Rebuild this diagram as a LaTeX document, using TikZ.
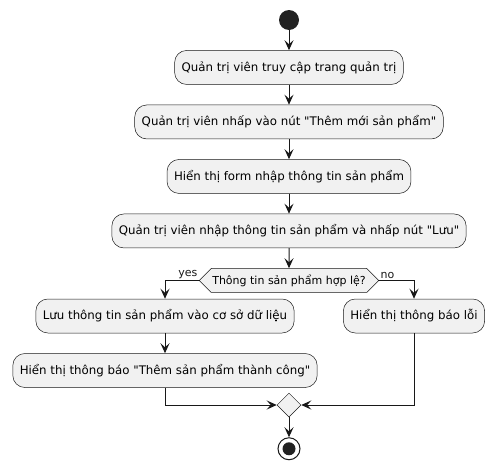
\documentclass[tikz,border=0pt]{standalone}
\usepackage{fontspec}
\setmainfont{DejaVu Sans}[Ligatures=TeXOff]
\usetikzlibrary{arrows.meta, positioning, shapes.geometric, shapes.symbols}
\definecolor{actfill}{RGB}{241,241,241}
\definecolor{actline}{RGB}{24,24,24}
\definecolor{dotfill}{RGB}{34,34,34}
\tikzset{
  block/.style={rectangle, rounded corners=12pt, draw=actline, fill=actfill,
                line width=0.5pt, minimum height=34pt, inner xsep=7pt,
                font=\fontsize{11.8}{14}\selectfont},
  decision/.style={signal, signal to=west and east, signal pointer angle=90,
                   draw=actline, fill=actfill, line width=0.5pt,
                   minimum height=24pt, inner xsep=1pt,
                   font=\fontsize{11}{13}\selectfont},
  junction/.style={diamond, draw=actline, fill=actfill, line width=0.5pt,
                   minimum width=24pt, minimum height=24pt, inner sep=0pt},
  startdot/.style={circle, fill=dotfill, minimum size=20pt, inner sep=0pt},
  enddot/.style={circle, draw=actline, fill=white, line width=1pt,
                 minimum size=22pt, inner sep=0pt,
                 path picture={\fill[dotfill] (path picture bounding box.center) circle (6.5pt);}},
  lbl/.style={font=\fontsize{11}{13}\selectfont, inner sep=1pt},
  arr/.style={-{Stealth[length=10pt, width=9pt, inset=4pt]}, line width=1pt, color=actline},
}
\begin{document}
\begin{tikzpicture}[x=1pt, y=1pt, node distance=20pt]
  \useasboundingbox (0,0) rectangle (498,-469);

  \node[startdot] at (289,-20)      (st)  {};
  \node[block, below=of st]         (acc) {Quản trị viên truy cập trang quản trị};
  \node[block, below=of acc]        (clk) {Quản trị viên nhấp vào nút "Thêm mới sản phẩm"};
  \node[block, below=of clk]        (frm) {Hiển thị form nhập thông tin sản phẩm};
  \node[block, below=of frm]        (inp) {Quản trị viên nhập thông tin sản phẩm và nhấp nút "Lưu"};
  \node[decision, below=of inp]     (chk) {Thông tin sản phẩm hợp lệ?};
  \node[block] at (165,-316)        (sav) {Lưu thông tin sản phẩm vào cơ sở dữ liệu};
  \node[block, below=of sav]        (ok)  {Hiển thị thông báo "Thêm sản phẩm thành công"};
  \node[block] at (414,-316)        (err) {Hiển thị thông báo lỗi};
  \node[junction] at (289,-405)     (mrg) {};
  \node[enddot, below=of mrg]       (fin) {};

  \draw[arr] (st)  -- (acc);
  \draw[arr] (acc) -- (clk);
  \draw[arr] (clk) -- (frm);
  \draw[arr] (frm) -- (inp);
  \draw[arr] (inp) -- (chk);
  \draw[arr] (chk.west) -| node[pos=0, anchor=south east, lbl]{yes} (sav);
  \draw[arr] (chk.east) -| node[pos=0, anchor=south west, lbl]{no} (err);
  \draw[arr] (sav) -- (ok);
  \draw[arr] (ok.south -| sav) |- (mrg);
  \draw[arr] (err) |- (mrg);
  \draw[arr] (mrg) -- (fin);
\end{tikzpicture}
\end{document}
